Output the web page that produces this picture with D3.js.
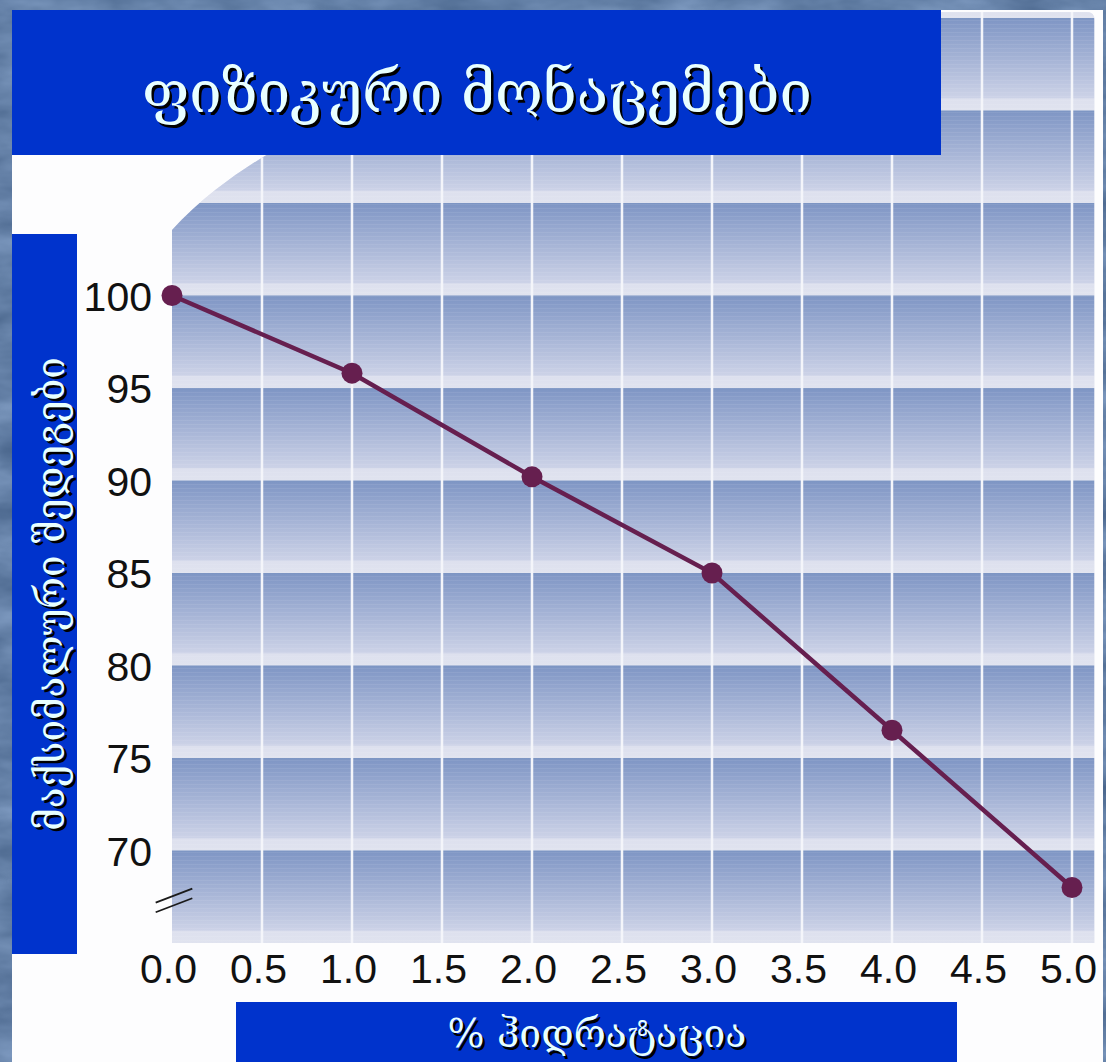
<!DOCTYPE html>
<html>
<head>
<meta charset="utf-8">
<script src="https://cdn.jsdelivr.net/npm/d3@7"></script>
<style>
  html, body { margin: 0; padding: 0; background: #6582a8; }
  svg { display: block; }
</style>
</head>
<body>
<div id="chart"></div>
<script>
// Hydration level (%) and the corresponding share of maximal performance
const hydration = [0, 1, 2, 3, 4, 5];
const performance = [100, 95.8, 90.2, 85.0, 76.5, 68.0];
const yTicks = [70, 75, 80, 85, 90, 95, 100];
const xTicks = [0, 0.5, 1, 1.5, 2, 2.5, 3, 3.5, 4, 4.5, 5];

const titleText = "ფიზიკური მონაცემები";
const yLabelText = "მაქსიმალური შედეგები";
const xLabelText = "% ჰიდრატაცია";

(function draw() {
  const W = 1106, H = 1062;
  const BLUE = "#0033cc";
  const LINE = "#661f4f";
  const LABEL_FILL = "#e8ffff";

  const svg = d3.select("#chart").append("svg")
    .attr("width", W).attr("height", H);

  const defs = svg.append("defs");

  // Marbled slide background
  const marble = defs.append("filter").attr("id", "marble")
    .attr("color-interpolation-filters", "sRGB")
    .attr("x", 0).attr("y", 0).attr("width", 1).attr("height", 1);
  marble.append("feTurbulence")
    .attr("type", "fractalNoise").attr("baseFrequency", "0.012 0.03")
    .attr("numOctaves", 4).attr("seed", 7).attr("result", "noise");
  marble.append("feColorMatrix").attr("in", "noise").attr("type", "matrix")
    .attr("values", [
      0.3, 0, 0, 0, 0.24,
      0.3, 0, 0, 0, 0.35,
      0.3, 0, 0, 0, 0.50,
      0, 0, 0, 0, 1
    ].join(" "));
  svg.append("rect").attr("width", W).attr("height", H).attr("fill", "#6582a8");
  svg.append("rect").attr("width", W).attr("height", H).attr("filter", "url(#marble)");

  // White slide panel
  svg.append("rect").attr("x", 12).attr("y", 10).attr("width", 1091).attr("height", H - 10)
    .attr("fill", "#fdfdfe");

  // Scales
  const x = d3.scaleLinear().domain([0, 5]).range([172, 1072]);
  const y = d3.scaleLinear().domain([70, 100]).range([850.5, 295.5]);

  const pLeft = x(0), pRight = x(5.125);
  const pTop = 12, pBottom = y(65);

  // Plot area outline: large rounded upper-left corner, small rounded upper-right corner
  const plotPath = [
    `M${pLeft},${pBottom}`,
    `L${pLeft},${pTop + 218}`,
    `A830,343 0 0 1 ${pLeft + 630},${pTop}`,
    `L${pRight - 8},${pTop}`,
    `Q${pRight},${pTop} ${pRight},${pTop + 8}`,
    `L${pRight},${pBottom}`,
    "Z"
  ].join(" ");

  defs.append("clipPath").attr("id", "plotClip")
    .append("path").attr("d", plotPath);

  // Vertical gradient used for each 5-unit band
  const grad = defs.append("linearGradient").attr("id", "bandGrad")
    .attr("x1", 0).attr("y1", 0).attr("x2", 0).attr("y2", 1);
  [
    [0, "#7c95c3"], [0.04, "#8298c6"], [0.45, "#a6b4d6"],
    [0.86, "#ccd2e7"], [0.875, "#dde0ee"], [1, "#e0e3ef"]
  ].forEach(([o, c]) => grad.append("stop").attr("offset", o).attr("stop-color", c));

  // Fine horizontal striping across the bands
  const stripes = defs.append("pattern").attr("id", "stripes")
    .attr("patternUnits", "userSpaceOnUse").attr("width", 8).attr("height", 4);
  stripes.append("rect").attr("width", 8).attr("height", 1)
    .attr("fill", "#ffffff").attr("opacity", 0.07);

  const plot = svg.append("g").attr("clip-path", "url(#plotClip)");
  plot.append("rect").attr("x", pLeft).attr("y", pTop)
    .attr("width", pRight - pLeft).attr("height", pBottom - pTop).attr("fill", "#e0e3ef");

  const bandTops = d3.range(120, 65, -5);
  plot.selectAll("rect.band").data(bandTops).join("rect")
    .attr("class", "band")
    .attr("x", pLeft).attr("width", pRight - pLeft)
    .attr("y", d => y(d)).attr("height", d => y(d - 5) - y(d))
    .attr("fill", "url(#bandGrad)");
  plot.append("rect").attr("x", pLeft).attr("y", pTop)
    .attr("width", pRight - pLeft).attr("height", pBottom - pTop).attr("fill", "url(#stripes)");

  // Vertical grid lines
  plot.selectAll("line.vgrid").data(xTicks.filter(d => d > 0)).join("line")
    .attr("class", "vgrid")
    .attr("x1", d => x(d)).attr("x2", d => x(d))
    .attr("y1", pTop).attr("y2", pBottom)
    .attr("stroke", "#f4f5fa").attr("stroke-width", 2.5);

  // Axes (labels only)
  const yAxis = svg.append("g")
    .attr("transform", `translate(${pLeft - 20},0)`)
    .call(d3.axisLeft(y).tickValues(yTicks).tickSize(0).tickPadding(0));
  const xAxis = svg.append("g")
    .attr("transform", `translate(-4,${pBottom + 40})`)
    .call(d3.axisBottom(x).tickValues(xTicks).tickFormat(d3.format(".1f")).tickSize(0).tickPadding(0));
  [yAxis, xAxis].forEach(g => {
    g.select(".domain").remove();
    g.selectAll("text")
      .attr("font-family", "'Liberation Sans', Arial, sans-serif")
      .attr("font-size", 41)
      .attr("fill", "#111");
  });
  yAxis.selectAll("text").attr("dy", "0.36em");
  xAxis.selectAll("text").attr("dy", "0");

  // Axis break mark
  const bx = x(0) + 2, by = y(67.3);
  [-4.8, 4.8].forEach(off => {
    svg.append("line")
      .attr("x1", bx - 18.3).attr("y1", by + off + 7)
      .attr("x2", bx + 18.3).attr("y2", by + off - 7)
      .attr("stroke", "#1a1a1a").attr("stroke-width", 1.8);
  });

  // Data line and markers
  const lineGen = d3.line().x((d, i) => x(hydration[i])).y(d => y(d));
  svg.append("path").datum(performance)
    .attr("d", lineGen)
    .attr("fill", "none").attr("stroke", LINE).attr("stroke-width", 4.5);
  svg.selectAll("circle.pt").data(performance).join("circle")
    .attr("class", "pt")
    .attr("cx", (d, i) => x(hydration[i])).attr("cy", d => y(d))
    .attr("r", 10.5).attr("fill", LINE);

  // Blue caption boxes
  svg.append("rect").attr("x", 12).attr("y", 10).attr("width", 929).attr("height", 145).attr("fill", BLUE);
  svg.append("rect").attr("x", 12).attr("y", 234).attr("width", 65).attr("height", 720).attr("fill", BLUE);
  svg.append("rect").attr("x", 236).attr("y", 1002).attr("width", 721).attr("height", 60).attr("fill", BLUE);

  // Shadowed caption text
  function caption(text, cx, cy, size, rotate) {
    const g = svg.append("g");
    [[2.5, 2.5, "#000"], [0, 0, LABEL_FILL]].forEach(([dx, dy, fill]) => {
      g.append("text")
        .attr("transform", `translate(${cx + dx},${cy + dy}) rotate(${rotate})`)
        .attr("text-anchor", "middle")
        .attr("font-family", "'DejaVu Serif', 'DejaVu Sans', serif")
        .attr("font-size", size)
        .attr("fill", fill)
        .text(text);
    });
  }
  caption(titleText, 477, 112, 58, 0);
  caption(yLabelText, 64, 594, 38.5, -90);
  caption(xLabelText, 597, 1047, 39, 0);
})();
</script>
</body>
</html>
